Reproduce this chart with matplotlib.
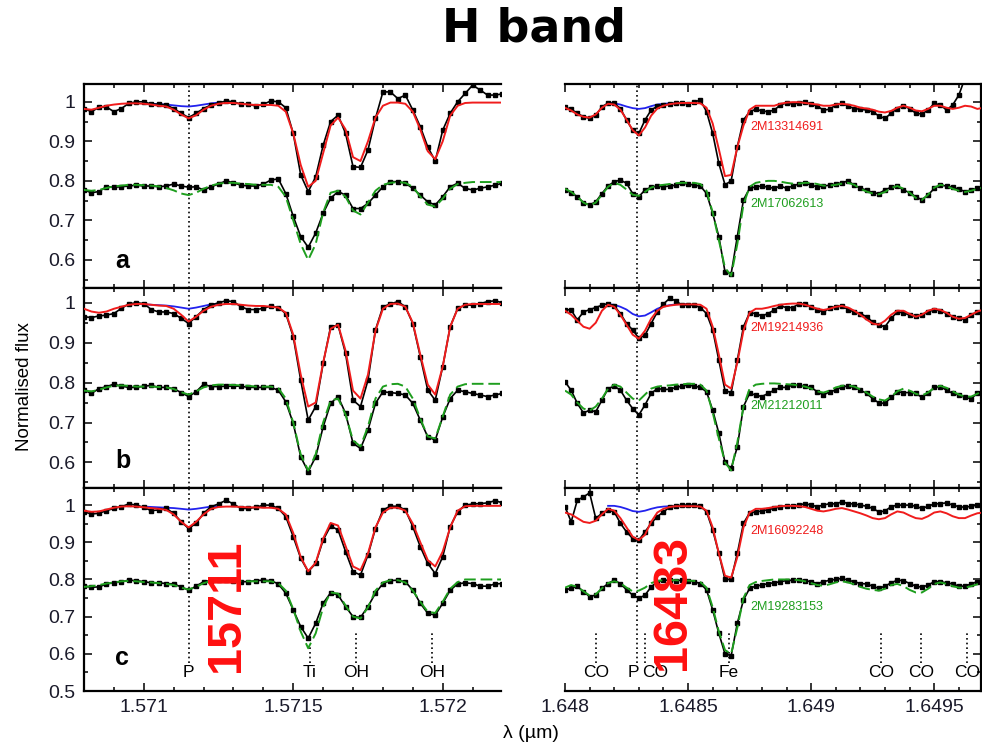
import matplotlib.pyplot as plt
from matplotlib.ticker import MultipleLocator

plt.rcParams['font.family'] = ['Liberation Sans', 'DejaVu Sans']

# wavelengths (micron) of the plotted pixels
wl_left = [1.570800, 1.570825, 1.570850, 1.570875, 1.570900, 1.570925, 1.570950, 1.570975,
           1.571000, 1.571025, 1.571050, 1.571075, 1.571100, 1.571125, 1.571150, 1.571175,
           1.571200, 1.571225, 1.571250, 1.571275, 1.571300, 1.571325, 1.571350, 1.571375,
           1.571400, 1.571425, 1.571450, 1.571475, 1.571500, 1.571525, 1.571550, 1.571575,
           1.571600, 1.571625, 1.571650, 1.571675, 1.571700, 1.571725, 1.571750, 1.571775,
           1.571800, 1.571825, 1.571850, 1.571875, 1.571900, 1.571925, 1.571950, 1.571975,
           1.572000, 1.572025, 1.572050, 1.572075, 1.572100, 1.572125, 1.572150, 1.572175,
           1.572200]
wl_right = [1.648000, 1.648025, 1.648050, 1.648075, 1.648100, 1.648125, 1.648150, 1.648175,
            1.648200, 1.648225, 1.648250, 1.648275, 1.648300, 1.648325, 1.648350, 1.648375,
            1.648400, 1.648425, 1.648450, 1.648475, 1.648500, 1.648525, 1.648550, 1.648575,
            1.648600, 1.648625, 1.648650, 1.648675, 1.648700, 1.648725, 1.648750, 1.648775,
            1.648800, 1.648825, 1.648850, 1.648875, 1.648900, 1.648925, 1.648950, 1.648975,
            1.649000, 1.649025, 1.649050, 1.649075, 1.649100, 1.649125, 1.649150, 1.649175,
            1.649200, 1.649225, 1.649250, 1.649275, 1.649300, 1.649325, 1.649350, 1.649375,
            1.649400, 1.649425, 1.649450, 1.649475, 1.649500, 1.649525, 1.649550, 1.649575,
            1.649600, 1.649625, 1.649650, 1.649675, 1.649700]

# panel a, left window
a_l_obs1 = [0.983, 0.975, 0.986, 0.987, 0.975, 0.983, 0.996, 1.0, 1.0, 0.994,
            0.994, 0.992, 0.983, 0.971, 0.96, 0.971, 0.983, 0.992, 0.997, 1.002,
            1.0, 0.994, 0.994, 0.989, 0.994, 1.002, 1.0, 0.985, 0.92, 0.815,
            0.773, 0.81, 0.89, 0.95, 0.966, 0.92, 0.836, 0.834, 0.878, 0.958,
            1.025, 1.025, 1.008, 1.017, 0.979, 0.937, 0.886, 0.85, 0.928, 0.971,
            1.0, 1.021, 1.042, 1.03, 1.017, 1.017, 1.02]
a_l_fit1 = [0.982, 0.98, 0.985, 0.99, 0.993, 0.995, 0.996, 0.996, 0.995, 0.993,
            0.99, 0.988, 0.98, 0.968, 0.958, 0.966, 0.98, 0.99, 0.995, 0.997,
            0.997, 0.995, 0.993, 0.992, 0.992, 0.992, 0.99, 0.975, 0.92, 0.84,
            0.785, 0.80, 0.87, 0.94, 0.96, 0.93, 0.86, 0.85, 0.9, 0.96,
            0.99, 0.998, 0.998, 0.995, 0.975, 0.93, 0.875, 0.855, 0.9, 0.965,
            0.99, 0.997, 0.998, 0.998, 0.998, 0.998, 0.998]
a_l_obs2 = [0.777, 0.77, 0.773, 0.785, 0.784, 0.785, 0.787, 0.789, 0.787, 0.787,
            0.785, 0.787, 0.792, 0.787, 0.784, 0.785, 0.777, 0.785, 0.792, 0.8,
            0.795, 0.789, 0.787, 0.787, 0.792, 0.802, 0.805, 0.768, 0.71, 0.659,
            0.632, 0.668, 0.718, 0.756, 0.773, 0.764, 0.73, 0.73, 0.743, 0.764,
            0.785, 0.798, 0.798, 0.794, 0.781, 0.764, 0.747, 0.739, 0.76, 0.785,
            0.794, 0.781, 0.777, 0.781, 0.785, 0.789, 0.794]
a_l_fit2 = [0.777, 0.775, 0.777, 0.782, 0.786, 0.788, 0.79, 0.79, 0.789, 0.788,
            0.786, 0.782, 0.776, 0.768, 0.764, 0.77, 0.78, 0.788, 0.793, 0.795,
            0.795, 0.793, 0.792, 0.79, 0.79, 0.79, 0.785, 0.76, 0.7, 0.64,
            0.6, 0.64, 0.72, 0.77, 0.775, 0.76, 0.725, 0.715, 0.745, 0.775,
            0.79, 0.795, 0.797, 0.795, 0.785, 0.76, 0.74, 0.735, 0.755, 0.78,
            0.792, 0.795, 0.797, 0.797, 0.797, 0.797, 0.797]
a_l_blue = [0.995, 0.995, 0.994, 0.993, 0.991, 0.989, 0.988, 0.99, 0.993, 0.996, 0.998]

# panel a, right window
a_r_obs1 = [0.986, 0.981, 0.971, 0.962, 0.958, 0.966, 0.987, 0.997, 0.996, 0.983,
            0.954, 0.928, 0.92, 0.954, 0.979, 0.989, 0.992, 0.994, 0.996, 0.997,
            0.994, 1.0, 1.004, 0.975, 0.92, 0.844, 0.79, 0.80, 0.886, 0.954,
            0.975, 0.981, 0.977, 0.975, 0.979, 0.992, 0.997, 0.994, 0.997, 1.0,
            0.994, 0.989, 0.979, 0.981, 0.992, 0.996, 0.989, 0.983, 0.981, 0.979,
            0.975, 0.964, 0.958, 0.971, 0.983, 0.989, 0.983, 0.971, 0.969, 0.979,
            0.996, 0.992, 0.979, 0.992, 1.017, 1.06, 1.09, 1.12, 1.15]
a_r_fit1 = [0.985, 0.978, 0.968, 0.962, 0.96, 0.968, 0.985, 0.995, 0.993, 0.98,
            0.955, 0.928, 0.915, 0.935, 0.965, 0.983, 0.99, 0.994, 0.996, 0.997,
            0.997, 0.997, 0.996, 0.985, 0.945, 0.88, 0.812, 0.815, 0.885, 0.94,
            0.98, 0.99, 0.99, 0.99, 0.99, 0.995, 0.998, 0.999, 0.999, 0.997,
            0.995, 0.993, 0.99, 0.99, 0.993, 0.995, 0.993, 0.99, 0.985, 0.983,
            0.98, 0.975, 0.973, 0.977, 0.985, 0.99, 0.985, 0.978, 0.976, 0.982,
            0.99, 0.99, 0.985, 0.982, 0.985, 0.99, 0.988, 0.982, 0.985]
a_r_obs2 = [0.777, 0.77, 0.76, 0.745, 0.739, 0.747, 0.768, 0.787, 0.798, 0.802,
            0.794, 0.768, 0.76, 0.777, 0.784, 0.787, 0.785, 0.787, 0.789, 0.794,
            0.792, 0.789, 0.787, 0.768, 0.718, 0.659, 0.57, 0.565, 0.659, 0.752,
            0.781, 0.785, 0.787, 0.784, 0.781, 0.787, 0.781, 0.787, 0.792, 0.795,
            0.789, 0.785, 0.787, 0.789, 0.792, 0.795, 0.8, 0.789, 0.781, 0.777,
            0.77, 0.768, 0.777, 0.784, 0.787, 0.777, 0.77, 0.76, 0.752, 0.764,
            0.781, 0.789, 0.787, 0.784, 0.779, 0.773, 0.777, 0.781, 0.784]
a_r_fit2 = [0.78, 0.772, 0.76, 0.745, 0.738, 0.745, 0.765, 0.785, 0.795, 0.79,
            0.778, 0.765, 0.762, 0.772, 0.783, 0.788, 0.79, 0.792, 0.794, 0.795,
            0.795, 0.795, 0.792, 0.775, 0.72, 0.65, 0.58, 0.56, 0.64, 0.74,
            0.785, 0.795, 0.798, 0.8, 0.8, 0.798, 0.795, 0.793, 0.793, 0.795,
            0.795, 0.792, 0.788, 0.788, 0.79, 0.793, 0.795, 0.79, 0.78, 0.773,
            0.768, 0.766, 0.772, 0.782, 0.787, 0.78, 0.77, 0.757, 0.752, 0.765,
            0.783, 0.79, 0.787, 0.78, 0.775, 0.772, 0.775, 0.78, 0.783]
a_r_blue = [0.997, 0.996, 0.993, 0.988, 0.984, 0.982, 0.984, 0.989, 0.993, 0.995,
            0.996, 0.997, 0.997, 0.997]

# panel b, left window
b_l_obs1 = [0.965, 0.963, 0.967, 0.969, 0.973, 0.986, 0.997, 1.0, 0.998, 0.983,
            0.977, 0.977, 0.973, 0.961, 0.948, 0.965, 0.983, 0.994, 1.0, 1.005,
            1.003, 0.99, 0.983, 0.983, 0.986, 0.992, 0.988, 0.973, 0.915, 0.806,
            0.706, 0.74, 0.848, 0.94, 0.944, 0.873, 0.756, 0.74, 0.806, 0.932,
            0.99, 0.997, 1.003, 0.99, 0.948, 0.865, 0.781, 0.756, 0.84, 0.94,
            0.986, 0.994, 0.994, 0.998, 1.003, 1.005, 1.0]
b_l_fit1 = [0.985, 0.978, 0.975, 0.978, 0.985, 0.99, 0.995, 0.997, 0.997, 0.995,
            0.993, 0.992, 0.985, 0.97, 0.953, 0.965, 0.98, 0.99, 0.995, 0.997,
            0.997, 0.995, 0.993, 0.992, 0.992, 0.99, 0.988, 0.975, 0.92, 0.82,
            0.74, 0.75, 0.85, 0.935, 0.945, 0.88, 0.78, 0.76, 0.82, 0.93,
            0.985, 0.997, 0.998, 0.99, 0.95, 0.87, 0.795, 0.77, 0.84, 0.94,
            0.985, 0.995, 0.997, 0.997, 0.997, 0.997, 0.997]
b_l_obs2 = [0.781, 0.773, 0.785, 0.79, 0.796, 0.791, 0.788, 0.788, 0.791, 0.793,
            0.788, 0.788, 0.785, 0.775, 0.765, 0.777, 0.796, 0.79, 0.79, 0.791,
            0.791, 0.791, 0.788, 0.788, 0.788, 0.788, 0.781, 0.752, 0.698, 0.614,
            0.577, 0.614, 0.689, 0.748, 0.765, 0.723, 0.648, 0.635, 0.681, 0.748,
            0.777, 0.775, 0.773, 0.769, 0.748, 0.706, 0.664, 0.656, 0.714, 0.76,
            0.781, 0.777, 0.773, 0.769, 0.765, 0.769, 0.773]
b_l_fit2 = [0.78, 0.778, 0.782, 0.788, 0.792, 0.793, 0.792, 0.79, 0.79, 0.79,
            0.789, 0.788, 0.784, 0.776, 0.77, 0.778, 0.788, 0.793, 0.795, 0.795,
            0.794, 0.793, 0.792, 0.79, 0.79, 0.79, 0.786, 0.76, 0.7, 0.62,
            0.58, 0.62, 0.7, 0.755, 0.76, 0.72, 0.655, 0.64, 0.69, 0.76,
            0.79, 0.796, 0.797, 0.79, 0.76, 0.71, 0.665, 0.66, 0.715, 0.77,
            0.79, 0.796, 0.797, 0.797, 0.797, 0.797, 0.797]
b_l_blue = [0.996, 0.995, 0.994, 0.993, 0.991, 0.988, 0.985, 0.988, 0.992, 0.996, 0.998]

# panel b, right window
b_r_obs1 = [0.983, 0.982, 0.957, 0.977, 0.983, 0.988, 0.994, 0.998, 0.992, 0.973,
            0.948, 0.932, 0.911, 0.919, 0.948, 0.977, 0.997, 1.011, 1.005, 0.994,
            0.994, 0.994, 0.988, 0.973, 0.932, 0.856, 0.78, 0.775, 0.856, 0.94,
            0.975, 0.973, 0.967, 0.973, 0.982, 0.992, 0.988, 0.988, 0.997, 0.997,
            0.99, 0.982, 0.977, 0.986, 0.99, 0.992, 0.983, 0.977, 0.973, 0.965,
            0.952, 0.944, 0.94, 0.961, 0.977, 0.975, 0.969, 0.967, 0.969, 0.977,
            0.983, 0.98, 0.973, 0.965, 0.961, 0.958, 0.969, 0.977, 0.983]
b_r_fit1 = [0.98, 0.97, 0.955, 0.94, 0.935, 0.95, 0.98, 0.995, 0.99, 0.97,
            0.945, 0.92, 0.91, 0.93, 0.96, 0.98, 0.99, 0.993, 0.995, 0.996,
            0.996, 0.996, 0.995, 0.985, 0.94, 0.87, 0.795, 0.785, 0.85, 0.93,
            0.975, 0.985, 0.985, 0.988, 0.992, 0.995, 0.997, 0.998, 0.998, 0.995,
            0.99, 0.985, 0.982, 0.985, 0.99, 0.992, 0.988, 0.98, 0.97, 0.958,
            0.948, 0.945, 0.955, 0.97, 0.98, 0.98, 0.972, 0.965, 0.97, 0.98,
            0.985, 0.982, 0.975, 0.965, 0.96, 0.962, 0.97, 0.978, 0.983]
b_r_obs2 = [0.802, 0.781, 0.748, 0.724, 0.731, 0.727, 0.756, 0.785, 0.791, 0.781,
            0.756, 0.735, 0.719, 0.744, 0.773, 0.785, 0.783, 0.783, 0.788, 0.791,
            0.794, 0.791, 0.788, 0.777, 0.731, 0.673, 0.6, 0.585, 0.639, 0.74,
            0.773, 0.769, 0.765, 0.773, 0.781, 0.788, 0.788, 0.794, 0.794, 0.791,
            0.788, 0.777, 0.769, 0.777, 0.781, 0.79, 0.791, 0.788, 0.781, 0.773,
            0.76, 0.749, 0.748, 0.763, 0.777, 0.775, 0.775, 0.773, 0.763, 0.773,
            0.788, 0.79, 0.781, 0.773, 0.769, 0.763, 0.76, 0.773, 0.781]
b_r_fit2 = [0.78, 0.77, 0.75, 0.735, 0.73, 0.74, 0.76, 0.785, 0.795, 0.79,
            0.775, 0.76, 0.755, 0.77, 0.785, 0.79, 0.792, 0.793, 0.795, 0.796,
            0.797, 0.797, 0.795, 0.78, 0.725, 0.66, 0.6, 0.58, 0.65, 0.74,
            0.785, 0.795, 0.797, 0.798, 0.798, 0.797, 0.796, 0.795, 0.793, 0.79,
            0.785, 0.778, 0.775, 0.78, 0.788, 0.792, 0.793, 0.79, 0.783, 0.775,
            0.765, 0.758, 0.755, 0.765, 0.778, 0.785, 0.78, 0.772, 0.768, 0.775,
            0.787, 0.792, 0.787, 0.778, 0.77, 0.765, 0.765, 0.772, 0.78]
b_r_blue = [0.996, 0.995, 0.99, 0.983, 0.972, 0.966, 0.968, 0.976, 0.985, 0.991,
            0.994, 0.996, 0.997, 0.997]

# panel c, left window
c_l_obs1 = [0.982, 0.976, 0.978, 0.985, 0.991, 0.996, 1.003, 1.0, 0.994, 0.985,
            0.987, 0.991, 0.978, 0.955, 0.937, 0.951, 0.978, 0.996, 1.003, 1.013,
            1.003, 0.991, 0.991, 0.994, 1.0, 1.0, 0.991, 0.969, 0.915, 0.857,
            0.821, 0.843, 0.906, 0.944, 0.933, 0.875, 0.821, 0.812, 0.866, 0.937,
            0.987, 0.997, 0.997, 0.987, 0.942, 0.888, 0.843, 0.816, 0.861, 0.942,
            0.982, 1.0, 1.003, 1.004, 1.006, 1.012, 1.006]
c_l_fit1 = [0.985, 0.982, 0.983, 0.988, 0.993, 0.996, 0.997, 0.996, 0.994, 0.992,
            0.99, 0.987, 0.975, 0.955, 0.94, 0.955, 0.975, 0.99, 0.995, 0.996,
            0.996, 0.995, 0.994, 0.994, 0.993, 0.993, 0.99, 0.975, 0.925, 0.86,
            0.822, 0.845, 0.91, 0.952, 0.945, 0.89, 0.835, 0.825, 0.87, 0.94,
            0.98, 0.993, 0.993, 0.985, 0.95, 0.9, 0.852, 0.835, 0.875, 0.94,
            0.985, 0.997, 0.998, 0.998, 0.998, 0.998, 0.998]
c_l_obs2 = [0.782, 0.779, 0.78, 0.788, 0.791, 0.794, 0.798, 0.797, 0.794, 0.791,
            0.791, 0.789, 0.788, 0.78, 0.771, 0.782, 0.794, 0.797, 0.798, 0.798,
            0.797, 0.794, 0.794, 0.797, 0.798, 0.797, 0.788, 0.763, 0.718, 0.673,
            0.642, 0.682, 0.736, 0.764, 0.758, 0.727, 0.7, 0.698, 0.727, 0.763,
            0.789, 0.797, 0.798, 0.794, 0.771, 0.736, 0.709, 0.704, 0.736, 0.771,
            0.788, 0.791, 0.789, 0.782, 0.782, 0.788, 0.789]
c_l_fit2 = [0.78, 0.782, 0.785, 0.789, 0.792, 0.795, 0.796, 0.795, 0.793, 0.792,
            0.79, 0.788, 0.785, 0.778, 0.773, 0.78, 0.79, 0.796, 0.798, 0.798,
            0.797, 0.796, 0.795, 0.795, 0.795, 0.795, 0.79, 0.77, 0.72, 0.66,
            0.615, 0.655, 0.725, 0.765, 0.762, 0.73, 0.7, 0.695, 0.725, 0.77,
            0.792, 0.798, 0.798, 0.792, 0.77, 0.74, 0.713, 0.71, 0.74, 0.775,
            0.793, 0.8, 0.8, 0.8, 0.8, 0.8, 0.8]
c_l_blue = [0.996, 0.995, 0.994, 0.993, 0.992, 0.99, 0.988, 0.99, 0.993, 0.996, 0.997]

# panel c, right window
c_r_obs1 = [0.996, 0.955, 1.013, 1.022, 1.033, 0.964, 0.978, 0.987, 0.982, 0.951,
            0.928, 0.91, 0.906, 0.928, 0.951, 0.969, 0.982, 0.994, 0.997, 1.0,
            1.0, 1.0, 0.997, 0.982, 0.933, 0.87, 0.8, 0.8, 0.87, 0.951,
            0.979, 0.982, 0.984, 0.988, 0.991, 0.996, 0.997, 0.997, 1.0, 1.004,
            1.0, 0.996, 1.0, 1.004, 1.003, 1.009, 1.004, 1.003, 1.0, 0.997,
            0.991, 0.982, 0.984, 0.996, 1.0, 1.0, 1.0, 0.997, 0.991, 0.997,
            1.003, 1.004, 1.006, 1.0, 0.996, 0.994, 0.997, 1.0, 1.003]
c_r_fit1 = [0.98, 0.975, 0.965, 0.955, 0.952, 0.958, 0.975, 0.99, 0.985, 0.965,
            0.94, 0.915, 0.906, 0.92, 0.955, 0.98, 0.99, 0.995, 0.997, 0.997,
            0.997, 0.997, 0.996, 0.985, 0.94, 0.87, 0.81, 0.805, 0.86, 0.94,
            0.98, 0.99, 0.99, 0.992, 0.995, 0.997, 0.998, 0.998, 0.997, 0.995,
            0.99, 0.985, 0.983, 0.986, 0.99, 0.992, 0.988, 0.983, 0.978, 0.972,
            0.965, 0.962, 0.965, 0.975, 0.983, 0.98, 0.972, 0.965, 0.963, 0.97,
            0.98, 0.983, 0.978, 0.97, 0.965, 0.965, 0.972, 0.978, 0.98]
c_r_obs2 = [0.772, 0.776, 0.782, 0.767, 0.754, 0.758, 0.776, 0.789, 0.798, 0.789,
            0.772, 0.758, 0.749, 0.758, 0.78, 0.794, 0.798, 0.798, 0.797, 0.798,
            0.797, 0.794, 0.789, 0.772, 0.718, 0.655, 0.6, 0.595, 0.682, 0.745,
            0.776, 0.782, 0.785, 0.789, 0.791, 0.794, 0.797, 0.798, 0.798, 0.797,
            0.794, 0.789, 0.794, 0.798, 0.8, 0.803, 0.798, 0.794, 0.789, 0.788,
            0.782, 0.776, 0.782, 0.791, 0.798, 0.797, 0.789, 0.782, 0.779, 0.785,
            0.794, 0.794, 0.791, 0.788, 0.782, 0.782, 0.788, 0.794, 0.797]
c_r_fit2 = [0.778, 0.785, 0.78, 0.768, 0.757, 0.76, 0.776, 0.79, 0.795, 0.79,
            0.778, 0.768, 0.77, 0.778, 0.79, 0.796, 0.798, 0.798, 0.798, 0.797,
            0.797, 0.796, 0.793, 0.778, 0.725, 0.66, 0.61, 0.6, 0.67, 0.75,
            0.785, 0.793, 0.796, 0.798, 0.8, 0.8, 0.8, 0.8, 0.798, 0.795,
            0.79, 0.785, 0.783, 0.787, 0.792, 0.795, 0.792, 0.787, 0.78, 0.775,
            0.772, 0.77, 0.775, 0.785, 0.788, 0.782, 0.772, 0.765, 0.765, 0.775,
            0.788, 0.792, 0.788, 0.782, 0.778, 0.778, 0.782, 0.787, 0.79]
c_r_blue = [0.998, 0.998, 0.995, 0.99, 0.984, 0.982, 0.985, 0.99, 0.994, 0.996,
            0.997, 0.997, 0.997, 0.997]

star_hi = ['2M13314691', '2M19214936', '2M16092248']
star_lo = ['2M17062613', '2M21212011', '2M19283153']
panel_names = ['a', 'b', 'c']

p_left = 1.57115
p_right = 1.648291
lines_left = [1.57115, 1.571556, 1.571709, 1.571963]
names_left = ['P', 'Ti', 'OH', 'OH']
lines_right = [1.648125, 1.648291, 1.648325, 1.648667, 1.649285, 1.649446, 1.649633]
names_right = ['CO', 'P', 'CO', 'Fe', 'CO', 'CO', 'CO']

xt_left = [1.571, 1.5715, 1.572]
xtl_left = ['1.571', '1.5715', '1.572']
xt_right = [1.648, 1.6485, 1.649, 1.6495]
xtl_right = ['1.648', '1.6485', '1.649', '1.6495']
yt = [0.5, 0.6, 0.7, 0.8, 0.9, 1.0]
ytl = ['0.5', '0.6', '0.7', '0.8', '0.9', '1']

RED = '#f01c1c'
GREEN = '#1e9e1e'
BLUE = '#2222ee'

W, H = 982, 746
fig = plt.figure(figsize=(W / 100, H / 100), dpi=100)


def box(x0, x1, y0, y1):
    return [x0 / W, 1 - y1 / H, (x1 - x0) / W, (y1 - y0) / H]


rows = [(84, 288), (288, 488), (488, 691)]
ylims = [(0.529, 1.045), (0.536, 1.037), (0.5, 1.046)]
letter_y = [0.098, 0.10, 0.128]

left_data = [(a_l_obs1, a_l_fit1, a_l_obs2, a_l_fit2, a_l_blue),
             (b_l_obs1, b_l_fit1, b_l_obs2, b_l_fit2, b_l_blue),
             (c_l_obs1, c_l_fit1, c_l_obs2, c_l_fit2, c_l_blue)]
right_data = [(a_r_obs1, a_r_fit1, a_r_obs2, a_r_fit2, a_r_blue),
              (b_r_obs1, b_r_fit1, b_r_obs2, b_r_fit2, b_r_blue),
              (c_r_obs1, c_r_fit1, c_r_obs2, c_r_fit2, c_r_blue)]
hi_label_y = [0.937, 0.936, 0.93]
lo_label_y = [0.741, 0.741, 0.725]


def draw(ax, wl, d, bx):
    obs1, fit1, obs2, fit2, blue = d
    ax.plot(bx, blue, color=BLUE, lw=1.3, zorder=2)
    ax.plot(wl, obs1, color='k', lw=1.2, marker='s', ms=3, zorder=3)
    ax.plot(wl, fit1, color=RED, lw=1.4, zorder=4)
    ax.plot(wl, obs2, color='k', lw=1.2, marker='s', ms=3, zorder=3)
    ax.plot(wl, fit2, color=GREEN, lw=1.4, ls=(0, (6, 2.5)), zorder=4)


def style(ax, side, ylim, bottom_row):
    ax.set_yticks(yt, ytl)
    ax.yaxis.set_minor_locator(MultipleLocator(0.05))
    ax.xaxis.set_minor_locator(MultipleLocator(0.0001))
    ax.set_ylim(*ylim)
    ax.tick_params(which='both', direction='in', top=True, bottom=True,
                   width=1.1, labelsize=14, pad=6, labelcolor='#1a1a2a')
    ax.tick_params(which='major', length=6)
    ax.tick_params(which='minor', length=3)
    for s in ax.spines.values():
        s.set_linewidth(1.6)
    if side == 'left':
        ax.spines['right'].set_visible(False)
        ax.tick_params(which='both', left=True, right=False)
    else:
        ax.spines['left'].set_visible(False)
        ax.tick_params(which='both', left=False, right=True, labelleft=False)
    if not bottom_row:
        ax.tick_params(labelbottom=False)


for i, (y0, y1) in enumerate(rows):
    bottom_row = i == 2
    axl = fig.add_axes(box(84, 501, y0, y1))
    draw(axl, wl_left, left_data[i], wl_left[8:19])
    axl.set_xticks(xt_left, xtl_left)
    axl.set_xlim(1.5708, 1.572195)
    style(axl, 'left', ylims[i], bottom_row)
    axl.text(0.074, letter_y[i], panel_names[i], transform=axl.transAxes,
             fontsize=18, fontweight='bold', va='baseline')

    axr = fig.add_axes(box(565, 981, y0, y1))
    draw(axr, wl_right, right_data[i], wl_right[7:21])
    axr.set_xticks(xt_right, xtl_right)
    axr.set_xlim(1.648, 1.64969)
    style(axr, 'right', ylims[i], bottom_row)
    axr.text(1.648752, hi_label_y[i], star_hi[i], color=RED, fontsize=9, va='center')
    axr.text(1.648752, lo_label_y[i], star_lo[i], color=GREEN, fontsize=9, va='center')

    dots = dict(color='k', ls=(0, (1, 1.8)), lw=1.2, zorder=1)
    if not bottom_row:
        axl.axvline(p_left, **dots)
        axr.axvline(p_right, **dots)
    else:
        for x, name in zip(lines_left, names_left):
            top = 1.1 if name == 'P' else (0.62 if name == 'Ti' else 0.655)
            axl.vlines(x, 0.575, top, **dots)
            axl.text(x, 0.549, name, ha='center', va='center', fontsize=12.5)
        shift = {1: -0.000012, 2: 0.00004}
        for j, (x, name) in enumerate(zip(lines_right, names_right)):
            top = 1.1 if name == 'P' else 0.655
            axr.vlines(x, 0.575, top, **dots)
            axr.text(x + shift.get(j, 0), 0.549, name, ha='center', va='center',
                     fontsize=12.5)

fig.text(534 / W, 1 - 29 / H, 'H band', ha='center', va='center', fontsize=33,
         fontweight='bold', family='DejaVu Sans')
fig.text(25 / W, 1 - 387 / H, 'Normalised flux', rotation=90, ha='center',
         va='center', fontsize=13.5)
fig.text(531 / W, 1 - 733 / H, 'λ (µm)', ha='center', va='center', fontsize=14)
fig.text(227 / W, 1 - 606 / H, '15711', rotation=90, ha='center', va='center',
         color='#ff1010', fontsize=35, fontweight='bold')
fig.text(672 / W, 1 - 602 / H, '16483', rotation=90, ha='center', va='center',
         color='#ff1010', fontsize=35, fontweight='bold')

fig.savefig('out.png', dpi=100)
